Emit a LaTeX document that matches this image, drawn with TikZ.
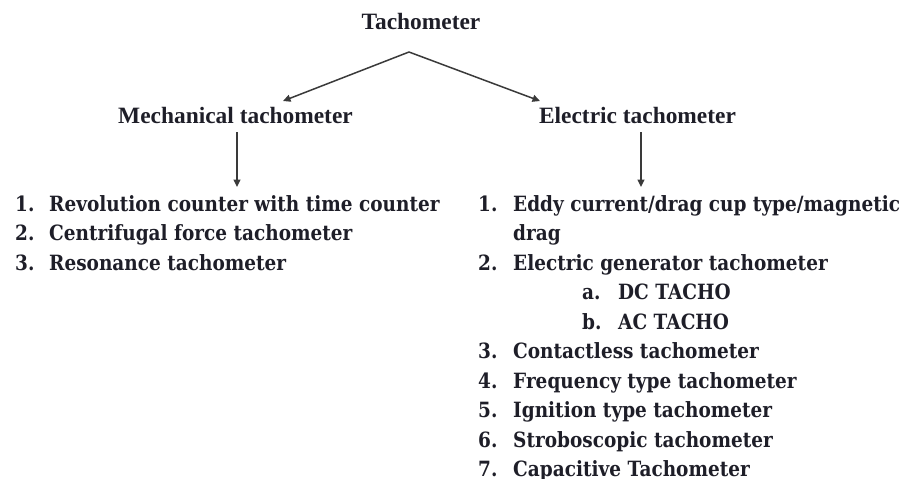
\documentclass[tikz,border=0pt]{standalone}
\usepackage{fontspec}
\setmainfont{Liberation Serif}
\newfontfamily\listfont{DejaVu Serif}[FakeStretch=0.88]
\usetikzlibrary{arrows.meta}
\definecolor{inkgray}{HTML}{3A3A3A}
\definecolor{textdark}{HTML}{1E1E28}

\begin{document}
\begin{tikzpicture}[x=1pt, y=-1pt, >={Triangle[length=7.5pt, width=7pt]},
    head/.style={font=\fontsize{23.4}{26}\selectfont\bfseries, text=textdark, inner sep=0pt, anchor=base},
    item/.style={font=\fontsize{21}{24}\selectfont\listfont\bfseries, text=textdark, inner sep=0pt, anchor=base west},
    link/.style={->, draw=inkgray, line width=1.5pt}]

    % Rahmen
    \useasboundingbox (0,0) rectangle (922,479);
    \clip (0,0) rectangle (922,479);

    % Ueberschriften
    \node[head] (title) at (421, 30) {Tachometer};
    \node[head] (mech) at (235.5, 123) {Mechanical tachometer};
    \node[head] (elec) at (637.5, 123) {Electric tachometer};

    % Pfeile von oben
    \coordinate (apex) at (409, 52);
    \coordinate (mtip) at (283, 101);
    \coordinate (etip) at (540, 101);
    \draw[link] (apex) -- (mtip);
    \draw[link] (apex) -- (etip);

    % linke Liste
    \node[item] (mn1) at (15, 211) {1.};
    \node[item] (mi1) at (49, 211) {Revolution counter with time counter};
    \node[item] (mn2) at (15, 240.5) {2.};
    \node[item] (mi2) at (49, 240.5) {Centrifugal force tachometer};
    \node[item] (mn3) at (15, 270) {3.};
    \node[item] (mi3) at (49, 270) {Resonance tachometer};

    % rechte Liste
    \node[item] (en1) at (478, 211) {1.};
    \node[item] (ei1) at (513, 211) {Eddy current/drag cup type/magnetic};
    \node[item] (ei1b) at (513, 240.5) {drag};
    \node[item] (en2) at (478, 270) {2.};
    \node[item] (ei2) at (513, 270) {Electric generator tachometer};
    \node[item] (ea) at (582, 299.5) {a.};
    \node[item] (eia) at (618, 299.5) {DC TACHO};
    \node[item] (eb) at (582, 329) {b.};
    \node[item] (eib) at (618, 329) {AC TACHO};
    \node[item] (en3) at (478, 358.5) {3.};
    \node[item] (ei3) at (513, 358.5) {Contactless tachometer};
    \node[item] (en4) at (478, 388) {4.};
    \node[item] (ei4) at (513, 388) {Frequency type tachometer};
    \node[item] (en5) at (478, 417.5) {5.};
    \node[item] (ei5) at (513, 417.5) {Ignition type tachometer};
    \node[item] (en6) at (478, 447) {6.};
    \node[item] (ei6) at (513, 447) {Stroboscopic tachometer};
    \node[item] (en7) at (478, 476.5) {7.};
    \node[item] (ei7) at (513, 476.5) {Capacitive Tachometer};

    % Pfeile nach unten
    \coordinate (mdown) at (237, 132);
    \coordinate (mend) at (237, 187);
    \coordinate (edown) at (641, 132);
    \coordinate (eend) at (641, 187);
    \draw[link] (mdown) -- (mend);
    \draw[link] (edown) -- (eend);
\end{tikzpicture}
\end{document}
